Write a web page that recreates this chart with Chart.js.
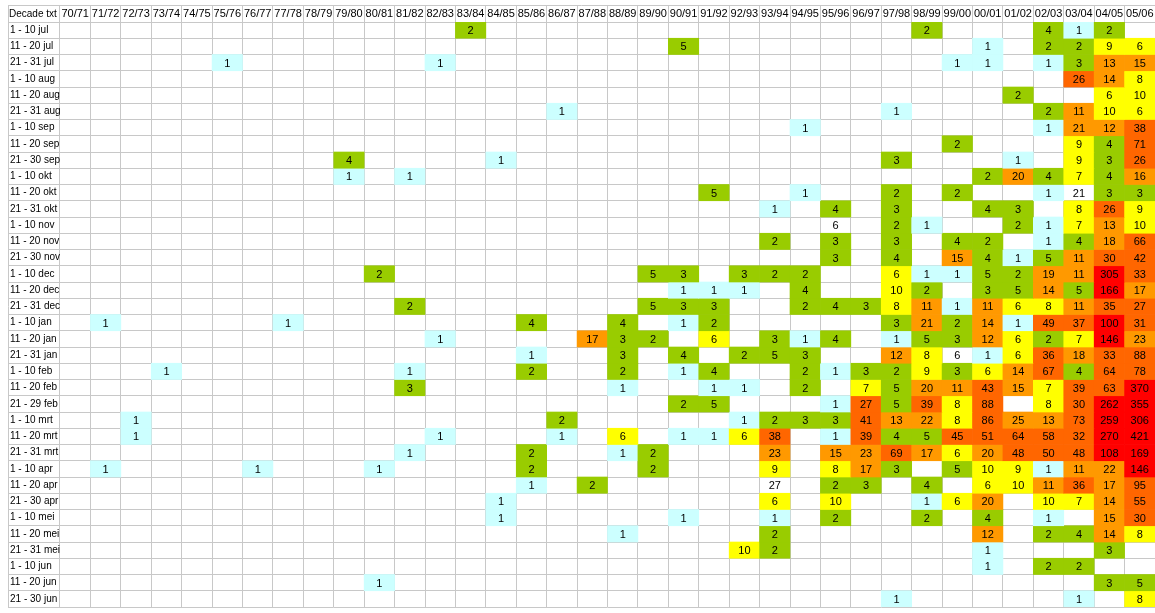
<!DOCTYPE html>
<html>
<head>
<meta charset="utf-8">
<script src="https://cdn.jsdelivr.net/npm/chart.js@4.4.1/dist/chart.umd.min.js"></script>
<style>
  html, body { margin: 0; padding: 0; background: #fff; }
  #wrap { width: 1155px; height: 613px; }
</style>
</head>
<body>
<div id="wrap"><canvas id="decades" width="1155" height="613"></canvas></div>
<script>
// seasons (columns)
var seasons = ['70/71','71/72','72/73','73/74','74/75','75/76','76/77','77/78','78/79','79/80',
  '80/81','81/82','82/83','83/84','84/85','85/86','86/87','87/88','88/89','89/90',
  '90/91','91/92','92/93','93/94','94/95','95/96','96/97','97/98','98/99','99/00',
  '00/01','01/02','02/03','03/04','04/05','05/06'];

// decades (rows)
var decades = ['1 - 10 jul','11 - 20 jul','21 - 31 jul','1 - 10 aug','11 - 20 aug','21 - 31 aug',
  '1 - 10 sep','11 - 20 sep','21 - 30 sep','1 - 10 okt','11 - 20 okt','21 - 31 okt',
  '1 - 10 nov','11 - 20 nov','21 - 30 nov','1 - 10 dec','11 - 20 dec','21 - 31 dec',
  '1 - 10 jan','11 - 20 jan','21 - 31 jan','1 - 10 feb','11 - 20 feb','21 - 29 feb',
  '1 - 10 mrt','11 - 20 mrt','21 - 31 mrt','1 - 10 apr','11 - 20 apr','21 - 30 apr',
  '1 - 10 mei','11 - 20 mei','21 - 31 mei','1 - 10 jun','11 - 20 jun','21 - 30 jun'];

// counts per decade, keyed by season (empty cells left out)
var cellCounts = [
  {'83/84':2,'98/99':2,'02/03':4,'03/04':1,'04/05':2},
  {'90/91':5,'00/01':1,'02/03':2,'03/04':2,'04/05':9,'05/06':6},
  {'75/76':1,'82/83':1,'99/00':1,'00/01':1,'02/03':1,'03/04':3,'04/05':13,'05/06':15},
  {'03/04':26,'04/05':14,'05/06':8},
  {'01/02':2,'04/05':6,'05/06':10},
  {'86/87':1,'97/98':1,'02/03':2,'03/04':11,'04/05':10,'05/06':6},
  {'94/95':1,'02/03':1,'03/04':21,'04/05':12,'05/06':38},
  {'99/00':2,'03/04':9,'04/05':4,'05/06':71},
  {'79/80':4,'84/85':1,'97/98':3,'01/02':1,'03/04':9,'04/05':3,'05/06':26},
  {'79/80':1,'81/82':1,'00/01':2,'01/02':20,'02/03':4,'03/04':7,'04/05':4,'05/06':16},
  {'91/92':5,'94/95':1,'97/98':2,'99/00':2,'02/03':1,'03/04':21,'04/05':3,'05/06':3},
  {'93/94':1,'95/96':4,'97/98':3,'00/01':4,'01/02':3,'03/04':8,'04/05':26,'05/06':9},
  {'95/96':6,'97/98':2,'98/99':1,'01/02':2,'02/03':1,'03/04':7,'04/05':13,'05/06':10},
  {'93/94':2,'95/96':3,'97/98':3,'99/00':4,'00/01':2,'02/03':1,'03/04':4,'04/05':18,'05/06':66},
  {'95/96':3,'97/98':4,'99/00':15,'00/01':4,'01/02':1,'02/03':5,'03/04':11,'04/05':30,'05/06':42},
  {'80/81':2,'89/90':5,'90/91':3,'92/93':3,'93/94':2,'94/95':2,'97/98':6,'98/99':1,'99/00':1,'00/01':5,'01/02':2,'02/03':19,'03/04':11,'04/05':305,'05/06':33},
  {'90/91':1,'91/92':1,'92/93':1,'94/95':4,'97/98':10,'98/99':2,'00/01':3,'01/02':5,'02/03':14,'03/04':5,'04/05':166,'05/06':17},
  {'81/82':2,'89/90':5,'90/91':3,'91/92':3,'94/95':2,'95/96':4,'96/97':3,'97/98':8,'98/99':11,'99/00':1,'00/01':11,'01/02':6,'02/03':8,'03/04':11,'04/05':35,'05/06':27},
  {'71/72':1,'77/78':1,'85/86':4,'88/89':4,'90/91':1,'91/92':2,'97/98':3,'98/99':21,'99/00':2,'00/01':14,'01/02':1,'02/03':49,'03/04':37,'04/05':100,'05/06':31},
  {'82/83':1,'87/88':17,'88/89':3,'89/90':2,'91/92':6,'93/94':3,'94/95':1,'95/96':4,'97/98':1,'98/99':5,'99/00':3,'00/01':12,'01/02':6,'02/03':2,'03/04':7,'04/05':146,'05/06':23},
  {'85/86':1,'88/89':3,'90/91':4,'92/93':2,'93/94':5,'94/95':3,'97/98':12,'98/99':8,'99/00':6,'00/01':1,'01/02':6,'02/03':36,'03/04':18,'04/05':33,'05/06':88},
  {'73/74':1,'81/82':1,'85/86':2,'88/89':2,'90/91':1,'91/92':4,'94/95':2,'95/96':1,'96/97':3,'97/98':2,'98/99':9,'99/00':3,'00/01':6,'01/02':14,'02/03':67,'03/04':4,'04/05':64,'05/06':78},
  {'81/82':3,'88/89':1,'91/92':1,'92/93':1,'94/95':2,'96/97':7,'97/98':5,'98/99':20,'99/00':11,'00/01':43,'01/02':15,'02/03':7,'03/04':39,'04/05':63,'05/06':370},
  {'90/91':2,'91/92':5,'95/96':1,'96/97':27,'97/98':5,'98/99':39,'99/00':8,'00/01':88,'02/03':8,'03/04':30,'04/05':262,'05/06':355},
  {'72/73':1,'86/87':2,'92/93':1,'93/94':2,'94/95':3,'95/96':3,'96/97':41,'97/98':13,'98/99':22,'99/00':8,'00/01':86,'01/02':25,'02/03':13,'03/04':73,'04/05':259,'05/06':306},
  {'72/73':1,'82/83':1,'86/87':1,'88/89':6,'90/91':1,'91/92':1,'92/93':6,'93/94':38,'95/96':1,'96/97':39,'97/98':4,'98/99':5,'99/00':45,'00/01':51,'01/02':64,'02/03':58,'03/04':32,'04/05':270,'05/06':421},
  {'81/82':1,'85/86':2,'88/89':1,'89/90':2,'93/94':23,'95/96':15,'96/97':23,'97/98':69,'98/99':17,'99/00':6,'00/01':20,'01/02':48,'02/03':50,'03/04':48,'04/05':108,'05/06':169},
  {'71/72':1,'76/77':1,'80/81':1,'85/86':2,'89/90':2,'93/94':9,'95/96':8,'96/97':17,'97/98':3,'99/00':5,'00/01':10,'01/02':9,'02/03':1,'03/04':11,'04/05':22,'05/06':146},
  {'85/86':1,'87/88':2,'93/94':27,'95/96':2,'96/97':3,'98/99':4,'00/01':6,'01/02':10,'02/03':11,'03/04':36,'04/05':17,'05/06':95},
  {'84/85':1,'93/94':6,'95/96':10,'98/99':1,'99/00':6,'00/01':20,'02/03':10,'03/04':7,'04/05':14,'05/06':55},
  {'84/85':1,'90/91':1,'93/94':1,'95/96':2,'98/99':2,'00/01':4,'02/03':1,'04/05':15,'05/06':30},
  {'88/89':1,'93/94':2,'00/01':12,'02/03':2,'03/04':4,'04/05':14,'05/06':8},
  {'92/93':10,'93/94':2,'00/01':1,'04/05':3},
  {'00/01':1,'02/03':2,'03/04':2},
  {'80/81':1,'04/05':3,'05/06':5},
  {'97/98':1,'03/04':1,'05/06':8}
];

// cells that have a number but no fill in the original sheet (decade|season)
var unshaded = ['11 - 20 okt|03/04', '1 - 10 nov|95/96', '21 - 31 jan|99/00', '11 - 20 apr|93/94'];

var LINE = '#c8c8c8';

// the sheet uses a narrow font; take the first face that keeps a row label inside its column
function pickFont(sample, maxWidth, choices) {
  var ctx = document.createElement('canvas').getContext('2d');
  for (var i = 0; i < choices.length; i++) {
    var f = choices[i];
    ctx.font = (f.style || 'normal') + ' ' + f.size + 'px ' + f.family;
    if (ctx.measureText(sample).width <= maxWidth) return f;
  }
  return choices[choices.length - 1];
}
var labelFont = pickFont('11 - 20 aug', 50, [
  { family: "'Liberation Sans Narrow'", size: 12 },
  { family: "'DejaVu Sans'", style: 'condensed', size: 10 },
  { family: "'Liberation Sans'", size: 10 }
]);
var cellFont = pickFont('70/71', 27, [
  { family: "'Liberation Sans Narrow'", size: 12 },
  { family: "'Liberation Sans'", size: 11 }
]);

function fontString(f) {
  return (f.style || 'normal') + ' ' + f.size + 'px ' + f.family;
}

function cellColour(v) {
  if (v >= 100) return '#ff0000';
  if (v >= 26) return '#ff6600';
  if (v >= 11) return '#ff9900';
  if (v >= 6) return '#ffff00';
  if (v >= 2) return '#99cc00';
  return '#ccffff';
}

var datasets = decades.map(function(dec, r) {
  var row = cellCounts[r];
  return {
    label: dec,
    data: seasons.map(function(s) { return row[s] ? [r, r + 1] : null; }),
    counts: seasons.map(function(s) { return row[s] || null; }),
    backgroundColor: seasons.map(function(s) {
      if (!row[s] || unshaded.indexOf(dec + '|' + s) >= 0) return 'rgba(0,0,0,0)';
      return cellColour(row[s]);
    }),
    borderWidth: 0,
    grouped: false,
    categoryPercentage: 1,
    barPercentage: 1
  };
});

// frame lines outside the plot, header caption and the numbers inside the cells
var tableText = {
  id: 'tableText',
  beforeDatasetsDraw: function(chart) {
    var ctx = chart.ctx, xs = chart.scales.x, ys = chart.scales.yl;
    ctx.save();
    ctx.strokeStyle = LINE;
    ctx.lineWidth = 1;
    ctx.beginPath();
    ctx.moveTo(ys.left - 2, xs.top + 0.5);
    ctx.lineTo(chart.width, xs.top + 0.5);
    ctx.moveTo(ys.left - 1.5, xs.top);
    ctx.lineTo(ys.left - 1.5, ys.bottom + 1);
    ctx.stroke();
    ctx.fillStyle = '#000';
    ctx.font = fontString(labelFont);
    ctx.textBaseline = 'middle';
    ctx.textAlign = 'left';
    ctx.fillText('Decade txt', ys.left - 1, (xs.top + xs.bottom) / 2 + 1);
    ctx.restore();
  },
  afterDatasetsDraw: function(chart) {
    var ctx = chart.ctx;
    ctx.save();
    ctx.fillStyle = '#000';
    ctx.font = fontString(cellFont);
    ctx.textAlign = 'center';
    ctx.textBaseline = 'middle';
    chart.data.datasets.forEach(function(ds, i) {
      chart.getDatasetMeta(i).data.forEach(function(bar, c) {
        var v = ds.counts[c];
        if (!v) return;
        ctx.fillText(String(v), bar.x, (bar.y + bar.base) / 2 + 1);
      });
    });
    ctx.restore();
  }
};

new Chart(document.getElementById('decades'), {
  type: 'bar',
  data: { labels: seasons, datasets: datasets },
  options: {
    responsive: false,
    animation: false,
    layout: { padding: { top: 5, left: 10, right: 0, bottom: 1 } },
    plugins: { legend: { display: false }, tooltip: { enabled: false } },
    scales: {
      x: {
        position: 'top',
        offset: true,
        grid: { color: LINE, offset: true, drawTicks: true, tickLength: 17 },
        border: { display: false },
        ticks: { color: '#000', font: cellFont, padding: -16, maxRotation: 0, autoSkip: false },
        afterFit: function(s) { s.height = 17; }
      },
      y: {
        type: 'linear',
        display: false,
        min: 0,
        max: 36,
        reverse: true
      },
      yl: {
        type: 'category',
        position: 'left',
        labels: decades,
        offset: true,
        grid: { color: LINE, offset: true, drawTicks: true, tickLength: 52 },
        border: { display: false },
        ticks: { color: '#000', font: labelFont, crossAlign: 'far', padding: 0, autoSkip: false },
        afterFit: function(s) { s.width = 50; }
      }
    }
  },
  plugins: [tableText]
});
</script>
</body>
</html>
